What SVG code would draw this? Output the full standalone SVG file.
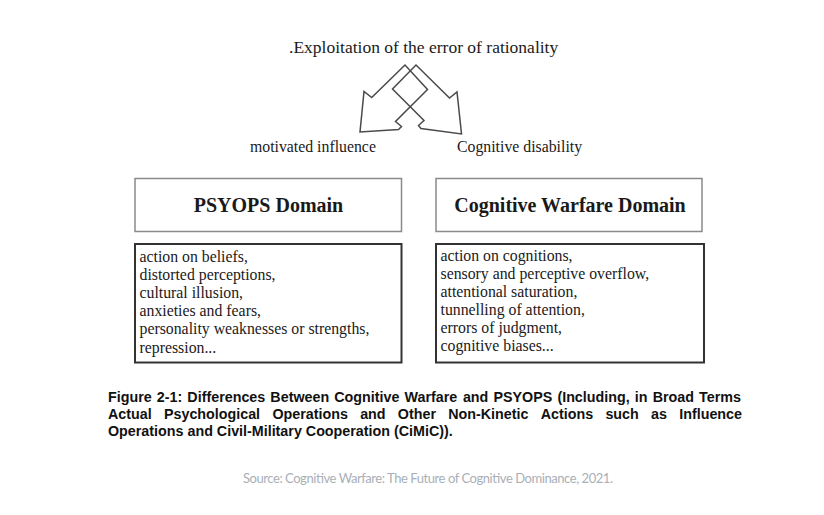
<svg xmlns="http://www.w3.org/2000/svg" width="824" height="515" viewBox="0 0 824 515">
<style>
.serif{font-family:"Liberation Serif","Times New Roman",serif;fill:#1a1a1a}
.lbl{font-size:15.8px}
.head{font-size:20px;font-weight:bold;text-anchor:middle}
.list{font-size:15.8px}
.hbox{fill:#fff;stroke:#8a8a8a;stroke-width:1.5}
.cbox{fill:#fff;stroke:#333;stroke-width:2}
.arrow{fill:none;stroke:#4a4a4a;stroke-width:1.5;stroke-linejoin:miter}
.cap{font-family:"Liberation Sans",Arial,sans-serif;font-weight:bold;font-size:14.3px;fill:#111}
.src{font-family:Lato,"Liberation Sans",sans-serif;font-size:13px;fill:#a9afb7}
</style>
<rect width="824" height="515" fill="#fff"/>
<g id="title">
<text class="serif" x="289" y="53" font-size="17.5">.Exploitation of the error of rationality</text>
</g>
<g id="connectors">
<polygon class="arrow" points="405,65 371.7,97.5 364,91.5 360,132 398.5,129.5 401.5,126.5 395.5,121.5 427.5,89.5"/>
<polygon class="arrow" points="416,65 449.5,98 457,92 461.5,134 421,128.5 418.5,125.5 424,120.5 392.5,89"/>
</g>
<g id="label-motivated">
<text class="serif lbl" x="250" y="152">motivated influence</text>
</g>
<g id="label-cognitive">
<text class="serif lbl" x="457" y="152">Cognitive disability</text>
</g>
<g id="psyops-header">
<rect class="hbox" x="135" y="178.5" width="266.5" height="53"/>
<text class="serif head" x="268.5" y="212">PSYOPS Domain</text>
</g>
<g id="cw-header">
<rect class="hbox" x="436" y="178.5" width="266" height="53"/>
<text class="serif head" x="570" y="212">Cognitive Warfare Domain</text>
</g>
<g id="psyops-list">
<rect class="cbox" x="135" y="244" width="266.5" height="118.5"/>
<text class="serif list">
<tspan x="139.5" y="261.5">action on beliefs,</tspan>
<tspan x="139.5" y="279.7">distorted perceptions,</tspan>
<tspan x="139.5" y="297.9">cultural illusion,</tspan>
<tspan x="139.5" y="316.1">anxieties and fears,</tspan>
<tspan x="139.5" y="334.3">personality weaknesses or strengths,</tspan>
<tspan x="139.5" y="352.5">repression...</tspan>
</text>
</g>
<g id="cw-list">
<rect class="cbox" x="436" y="244" width="268" height="118.5"/>
<text class="serif list">
<tspan x="440.5" y="261">action on cognitions,</tspan>
<tspan x="440.5" y="279">sensory and perceptive overflow,</tspan>
<tspan x="440.5" y="297">attentional saturation,</tspan>
<tspan x="440.5" y="315">tunnelling of attention,</tspan>
<tspan x="440.5" y="333">errors of judgment,</tspan>
<tspan x="440.5" y="351">cognitive biases...</tspan>
</text>
</g>
<g id="caption">
<text class="cap" y="401.5"><tspan x="108">Figure</tspan><tspan x="156.82">2-1:</tspan><tspan x="187.37">Differences</tspan><tspan x="270.37">Between</tspan><tspan x="334.29">Cognitive</tspan><tspan x="404.56">Warfare</tspan><tspan x="462.92">and</tspan><tspan x="493.47">PSYOPS</tspan><tspan x="557.41">(Including,</tspan><tspan x="634.83">in</tspan><tspan x="652.66">Broad</tspan><tspan x="699.09">Terms</tspan></text>
<text class="cap" y="418.5"><tspan x="108">Actual</tspan><tspan x="163.96">Psychological</tspan><tspan x="272.39">Operations</tspan><tspan x="360.14">and</tspan><tspan x="397.83">Other</tspan><tspan x="448.23">Non-Kinetic</tspan><tspan x="540.73">Actions</tspan><tspan x="605.43">such</tspan><tspan x="651.07">as</tspan><tspan x="679.23">Influence</tspan></text>
<text class="cap" x="108" y="435.5">Operations and Civil-Military Cooperation (CiMiC)).</text>
</g>
<g id="source">
<text class="src" x="243" y="482.5" textLength="370" lengthAdjust="spacing">Source: Cognitive Warfare: The Future of Cognitive Dominance, 2021.</text>
</g>
</svg>
